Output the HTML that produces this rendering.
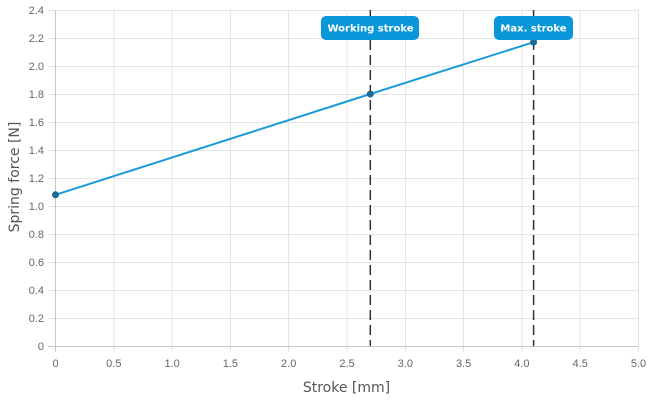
<!DOCTYPE html>
<html><head><meta charset="utf-8"><style>
html,body{margin:0;padding:0;background:#fff;}
svg{display:block;}
</style></head><body>
<svg width="650" height="400" viewBox="0 0 650 400" xmlns="http://www.w3.org/2000/svg">
<rect width="650" height="400" fill="#fff"/>
<g stroke="#e4e4e4" stroke-width="1" shape-rendering="crispEdges">
<line x1="48" y1="10.5" x2="638" y2="10.5"/>
<line x1="48" y1="38.5" x2="638" y2="38.5"/>
<line x1="48" y1="66.5" x2="638" y2="66.5"/>
<line x1="48" y1="94.5" x2="638" y2="94.5"/>
<line x1="48" y1="122.5" x2="638" y2="122.5"/>
<line x1="48" y1="150.5" x2="638" y2="150.5"/>
<line x1="48" y1="178.5" x2="638" y2="178.5"/>
<line x1="48" y1="206.5" x2="638" y2="206.5"/>
<line x1="48" y1="234.5" x2="638" y2="234.5"/>
<line x1="48" y1="262.5" x2="638" y2="262.5"/>
<line x1="48" y1="290.5" x2="638" y2="290.5"/>
<line x1="48" y1="318.5" x2="638" y2="318.5"/>
<line x1="113.8" y1="10" x2="113.8" y2="352"/>
<line x1="172.1" y1="10" x2="172.1" y2="352"/>
<line x1="230.4" y1="10" x2="230.4" y2="352"/>
<line x1="288.7" y1="10" x2="288.7" y2="352"/>
<line x1="347" y1="10" x2="347" y2="352"/>
<line x1="405.3" y1="10" x2="405.3" y2="352"/>
<line x1="463.6" y1="10" x2="463.6" y2="352"/>
<line x1="521.9" y1="10" x2="521.9" y2="352"/>
<line x1="580.2" y1="10" x2="580.2" y2="352"/>
<line x1="638.5" y1="10" x2="638.5" y2="352"/>
</g>
<g stroke="#c8c8c8" stroke-width="1" shape-rendering="crispEdges">
<line x1="55.5" y1="10" x2="55.5" y2="352"/>
<line x1="48" y1="346.5" x2="638" y2="346.5"/>
</g>
<g font-family="Liberation Sans, Arial, sans-serif" font-size="11" fill="#666" text-anchor="end">
<text x="44" y="14">2.4</text>
<text x="44" y="42">2.2</text>
<text x="44" y="70">2.0</text>
<text x="44" y="98">1.8</text>
<text x="44" y="126">1.6</text>
<text x="44" y="154">1.4</text>
<text x="44" y="182">1.2</text>
<text x="44" y="210">1.0</text>
<text x="44" y="238">0.8</text>
<text x="44" y="266">0.6</text>
<text x="44" y="294">0.4</text>
<text x="44" y="322">0.2</text>
<text x="44" y="350">0</text>
</g>
<g font-family="Liberation Sans, Arial, sans-serif" font-size="11" fill="#666" text-anchor="middle">
<text x="55.5" y="367">0</text>
<text x="113.8" y="367">0.5</text>
<text x="172.1" y="367">1.0</text>
<text x="230.4" y="367">1.5</text>
<text x="288.7" y="367">2.0</text>
<text x="347" y="367">2.5</text>
<text x="405.3" y="367">3.0</text>
<text x="463.6" y="367">3.5</text>
<text x="521.9" y="367">4.0</text>
<text x="580.2" y="367">4.5</text>
<text x="638.5" y="367">5.0</text>
</g>
<text x="346.5" y="392" font-family="DejaVu Sans, sans-serif" font-size="14" fill="#555" text-anchor="middle">Stroke [mm]</text>
<text transform="translate(19,177) rotate(-90)" font-family="DejaVu Sans, sans-serif" font-size="14" fill="#555" text-anchor="middle">Spring force [N]</text>
<g stroke="#333" stroke-width="1.5" stroke-dasharray="10,5">
<line x1="370.3" y1="10" x2="370.3" y2="346"/>
<line x1="533.6" y1="10" x2="533.6" y2="346"/>
</g>
<polyline points="55.5,194.8 370.3,94 533.6,42.2" fill="none" stroke="#1b9ad8" stroke-width="2"/>
<g fill="#1d6a96" stroke="#1d6a96" stroke-width="1">
<circle cx="55.5" cy="194.8" r="3"/>
<circle cx="370.3" cy="94" r="3"/>
<circle cx="533.6" cy="42.2" r="3"/>
</g>
<rect x="321" y="16" width="98" height="24" rx="5" fill="#0a97d9"/>
<text x="370.5" y="31.5" font-family="DejaVu Sans, sans-serif" font-weight="bold" font-size="10" fill="#fff" text-anchor="middle">Working stroke</text>
<rect x="494" y="16" width="79" height="24" rx="5" fill="#0a97d9"/>
<text x="533.5" y="31.5" font-family="DejaVu Sans, sans-serif" font-weight="bold" font-size="10" fill="#fff" text-anchor="middle">Max. stroke</text>
</svg>
</body></html>
